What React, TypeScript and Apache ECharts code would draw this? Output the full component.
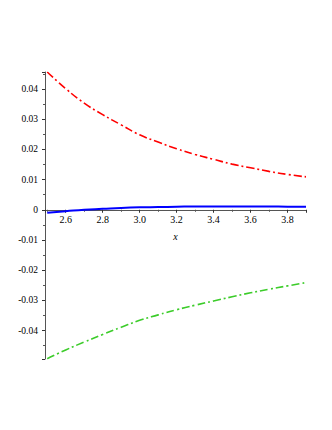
import React, { useEffect, useRef } from "react";
import * as echarts from "echarts";

const xValues = [2.5, 2.6, 2.7, 2.8, 2.9, 3.0, 3.1, 3.2, 3.3, 3.4, 3.5, 3.6, 3.7, 3.8, 3.9];
const redValues = [0.0456, 0.0401, 0.0353, 0.0315, 0.0281, 0.0248, 0.0224, 0.0202, 0.0183, 0.0167, 0.0151, 0.0139, 0.0127, 0.0117, 0.0109];
const greenValues = [-0.0493, -0.0464, -0.0438, -0.0413, -0.0389, -0.0366, -0.0348, -0.0331, -0.0316, -0.0302, -0.0288, -0.0275, -0.0263, -0.0252, -0.0241];
const blueValues = [-0.001, -0.0005, 0.0, 0.0003, 0.0006, 0.0008, 0.0009, 0.001, 0.0011, 0.0011, 0.0011, 0.0011, 0.0011, 0.001, 0.001];

const xMin = 2.488;
const xMax = 3.9;
const yMin = -0.0494;
const yMax = 0.0456;

const pairs = (ys: number[]) => xValues.map((x, i) => [x, ys[i]]);

const FONT = "'Liberation Serif', 'Times New Roman', serif";

const GRID_TOP = 72;
const GRID_BOTTOM = 71;
const HEIGHT = 430;

export default function App() {
  const ref = useRef<HTMLDivElement>(null);
  useEffect(() => {
    if (!ref.current) return;
    const chart = echarts.init(ref.current, undefined, { renderer: "svg" });
    const isMultiple = (v: number, step: number) => Math.abs(v / step - Math.round(v / step)) < 1e-6;
    const plotH = HEIGHT - GRID_TOP - GRID_BOTTOM;
    const zeroOffset = -(plotH * (0 - yMin)) / (yMax - yMin);
    chart.setOption({
      animation: false,
      backgroundColor: "#ffffff",
      grid: { left: 45, right: 26, top: GRID_TOP, bottom: GRID_BOTTOM },
      xAxis: {
        type: "value",
        min: xMin,
        max: xMax,
        splitNumber: 7,
        offset: zeroOffset,
        name: "x",
        nameLocation: "middle",
        nameGap: 22,
        nameTextStyle: { fontFamily: FONT, fontStyle: "italic", fontSize: 10, color: "#000" },
        axisLine: { onZero: false, lineStyle: { color: "#555", width: 1 } },
        axisTick: { show: true, length: 3, lineStyle: { color: "#333" } },
        minorTick: { show: true, splitNumber: 2, length: 2, lineStyle: { color: "#555" } },
        splitLine: { show: false },
        axisLabel: {
          fontFamily: FONT,
          fontSize: 10,
          color: "#000",
          margin: 5,
          showMinLabel: false,
          showMaxLabel: false,
          formatter: (v: number) => (isMultiple(v, 0.2) ? v.toFixed(1) : ""),
        },
      },
      yAxis: {
        type: "value",
        min: yMin,
        max: yMax,
        splitNumber: 10,
        axisLine: { show: true, onZero: false, lineStyle: { color: "#555", width: 1 } },
        axisTick: { show: true, length: 3, lineStyle: { color: "#333" } },
        minorTick: { show: true, splitNumber: 2, length: 2, lineStyle: { color: "#555" } },
        splitLine: { show: false },
        axisLabel: {
          fontFamily: FONT,
          fontSize: 9.5,
          color: "#000",
          margin: 7,
          showMinLabel: false,
          showMaxLabel: false,
          formatter: (v: number) => {
            if (!isMultiple(v, 0.01)) return "";
            if (Math.abs(v) < 1e-9) return "0";
            return v.toFixed(2);
          },
        },
      },
      series: [
        {
          type: "line",
          data: pairs(redValues),
          smooth: true,
          showSymbol: false,
          lineStyle: { color: "#ff0000", width: 1.6, type: [8, 3, 2, 3] },
        },
        {
          type: "line",
          data: pairs(greenValues),
          smooth: true,
          showSymbol: false,
          lineStyle: { color: "#3ccc2a", width: 1.6, type: [8, 3, 2, 3] },
        },
        {
          type: "line",
          data: pairs(blueValues),
          smooth: true,
          showSymbol: false,
          lineStyle: { color: "#0000ff", width: 2 },
        },
      ],
    });
    return () => chart.dispose();
  }, []);
  return (
    <div
      ref={ref}
      style={{ position: "fixed", left: 0, top: 0, width: 332, height: HEIGHT }}
    />
  );
}
